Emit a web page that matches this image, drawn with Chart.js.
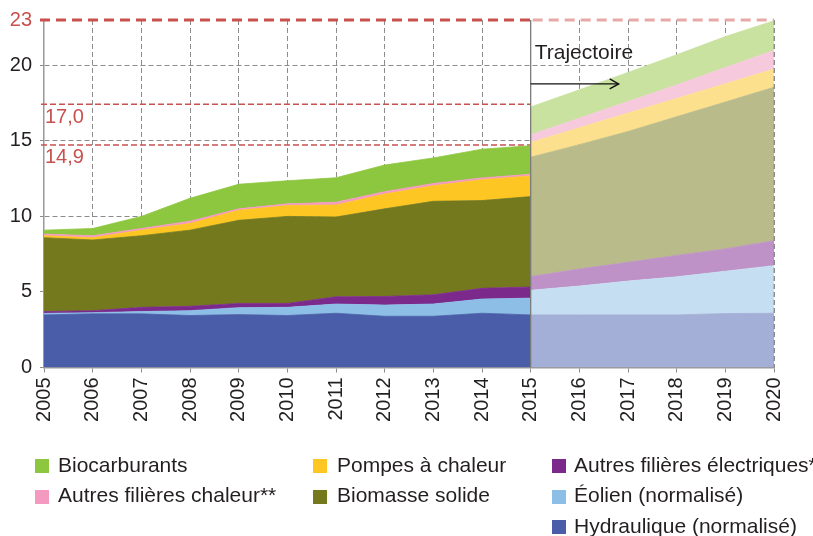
<!DOCTYPE html>
<html><head><meta charset="utf-8">
<script src="https://cdn.jsdelivr.net/npm/chart.js@4"></script>
<style>
html,body{margin:0;padding:0;background:#fff;}
#wrap{position:relative;width:813px;height:536px;overflow:hidden;}
canvas{position:absolute;left:0;top:0;}
.lg{position:absolute;font-family:"Liberation Sans",Arial,sans-serif;font-size:21px;color:#231f20;white-space:nowrap;line-height:24px;}
.sw{position:absolute;width:14px;height:14px;}
</style></head><body>
<div id="wrap"><canvas id="c" width="813" height="536"></canvas></div>
<script>
// ---- data ----
const histYears = [2005,2006,2007,2008,2009,2010,2011,2012,2013,2014,2015];
const projYears = [2015,2016,2017,2018,2019,2020];
const seriesNames = ["Hydraulique (normalisé)","Éolien (normalisé)","Autres filières électriques*","Biomasse solide","Pompes à chaleur","Autres filières chaleur**","Biocarburants"];
const histColors = ["#4a5da8","#8cbee6","#7b2a8c","#74791d","#fdc623","#f49ac1","#8dc63f"];
const projColors = ["#a3afd6","#c6def2","#be92c6","#b9bb8b","#fde08e","#f7c9dd","#c9e2a0"];
// historical values (Mtep) per series
const histHydro   = [3.48,3.55,3.55,3.44,3.50,3.44,3.59,3.39,3.39,3.59,3.48];
const histEolien  = [0.10,0.08,0.15,0.32,0.46,0.54,0.61,0.74,0.81,0.94,1.11];
const histAutElec = [0.12,0.13,0.28,0.29,0.28,0.26,0.48,0.57,0.61,0.71,0.74];
const histBiomasse= [4.89,4.68,4.74,5.04,5.50,5.76,5.28,5.80,6.19,5.81,5.98];
const histPAC     = [0.13,0.15,0.37,0.44,0.66,0.72,0.80,0.98,1.03,1.38,1.37];
const histAutChal = [0.11,0.13,0.11,0.15,0.10,0.11,0.18,0.16,0.15,0.12,0.11];
const histBiocarb = [0.26,0.48,0.80,1.52,1.63,1.53,1.62,1.76,1.69,1.90,1.89];
// trajectory values
const projHydro   = [3.48,3.48,3.48,3.48,3.57,3.59];
const projEolien  = [1.63,1.91,2.24,2.52,2.80,3.15];
const projAutElec = [0.91,1.13,1.24,1.42,1.48,1.65];
const projBiomasse= [7.90,8.23,8.66,9.18,9.72,10.16];
const projPAC     = [0.98,1.12,1.22,1.21,1.21,1.20];
const projAutChal = [0.50,0.63,0.76,0.89,1.07,1.23];
const projBiocarb = [1.85,1.88,1.93,2.00,2.05,1.97];
const yTicks = [0,5,10,15,20,23];
const targetValue = 23;
const refValues = [17.42,14.73];
const refLabels = ["17,0","14,9"];
const splitYear = 2015;
const legendCols = [[6,5],[4,3],[2,1,0]];

const histSeries = [histHydro,histEolien,histAutElec,histBiomasse,histPAC,histAutChal,histBiocarb];
const projSeries = [projHydro,projEolien,projAutElec,projBiomasse,projPAC,projAutChal,projBiocarb];

const RED = "#c8504e", PINK = "#e6a9a8", GRID = "#8c8c8c", TXT = "#231f20";
const FONT = '"Liberation Sans", Arial, sans-serif';

const datasets = [];
histSeries.forEach((vals,i)=>{
  datasets.push({label:seriesNames[i], stack:'hist',
    data: histYears.map((x,k)=>({x, y: vals[k]})),
    backgroundColor: histColors[i], borderColor: histColors[i], borderWidth: 0.8,
    pointRadius: 0, fill: i===0 ? 'origin' : '-1', tension: 0});
});
projSeries.forEach((vals,i)=>{
  datasets.push({label:seriesNames[i]+' (trajectoire)', stack:'proj',
    data: projYears.map((x,k)=>({x, y: vals[k]})),
    backgroundColor: projColors[i], borderColor: projColors[i], borderWidth: 0.8,
    pointRadius: 0, fill: i===0 ? 'origin' : '-1', tension: 0});
});

function seg(ctx,x1,y1,x2,y2){ctx.beginPath();ctx.moveTo(x1,y1);ctx.lineTo(x2,y2);ctx.stroke();}

const overlay = {
  id:'overlay',
  beforeDatasetsDraw(chart){
    const {ctx, chartArea:a, scales:{x,y}} = chart;
    const xs = x.getPixelForValue(splitYear);
    ctx.save();
    ctx.strokeStyle = RED; ctx.lineWidth = 1.5; ctx.setLineDash([6,3]);
    ctx.fillStyle = RED; ctx.font = '20px '+FONT; ctx.textBaseline='middle'; ctx.textAlign='left';
    refValues.forEach((v,i)=>{
      const py = y.getPixelForValue(v);
      seg(ctx, a.left-3, py, xs, py);
      ctx.fillText(refLabels[i], a.left+1, py+13);
    });
    ctx.restore();
  },
  afterDatasetsDraw(chart){
    const {ctx, chartArea:a, scales:{x,y}} = chart;
    const xs = x.getPixelForValue(splitYear);
    const xe = x.getPixelForValue(projYears[projYears.length-1]);
    ctx.save();
    ctx.strokeStyle = 'rgba(140,140,140,0.9)'; ctx.lineWidth = 1; ctx.setLineDash([5,3]);
    seg(ctx, xe, a.top, xe, a.bottom);
    ctx.setLineDash([]); ctx.strokeStyle = '#7a7a7a'; ctx.lineWidth = 1.3;
    seg(ctx, xs, a.top, xs, a.bottom);
    const pt = y.getPixelForValue(targetValue);
    ctx.lineWidth = 3; ctx.setLineDash([10,6]);
    ctx.strokeStyle = RED; seg(ctx, a.left-4, pt, xs, pt);
    ctx.strokeStyle = PINK; seg(ctx, xs+2, pt, xe, pt);
    ctx.setLineDash([]);
    ctx.fillStyle = TXT; ctx.font = '21px '+FONT; ctx.textAlign='left'; ctx.textBaseline='alphabetic';
    ctx.fillText('Trajectoire', xs+4, y.getPixelForValue(20.4));
    const ay = y.getPixelForValue(18.77);
    const tip = xs + 88;
    ctx.strokeStyle = '#111'; ctx.lineWidth = 1.4;
    seg(ctx, xs, ay, tip, ay);
    ctx.beginPath(); ctx.moveTo(tip-9, ay-5); ctx.lineTo(tip, ay); ctx.lineTo(tip-9, ay+5); ctx.stroke();
    ctx.restore();
  }
};

new Chart(document.getElementById('c'), {
  type:'line',
  data:{datasets},
  options:{
    responsive:false, animation:false, events:[],
    layout:{padding:{top:16.5,right:39,left:0,bottom:0}},
    plugins:{legend:{display:false}, tooltip:{enabled:false}},
    scales:{
      x:{type:'linear', min:2005, max:2020,
        afterFit(s){ s.height = 168.5; },
        ticks:{stepSize:1, autoSkip:false, minRotation:90, maxRotation:90, padding:5,
          callback:v=>String(v), color:TXT,
          font:{family:FONT, size:20}},
        grid:{color:c=> (c.tick && (c.tick.value===2005 || c.tick.value===splitYear)) ? 'rgba(0,0,0,0)' : GRID,
          tickColor:GRID, tickLength:5, lineWidth:1},
        border:{display:true, color:'#999', width:1.5, dash:[5,3]}
      },
      y:{type:'linear', stacked:true, min:0, max:23,
        afterFit(s){ s.width = 44; },
        afterBuildTicks(s){ s.ticks = yTicks.map(v=>({value:v})); },
        ticks:{autoSkip:false, padding:8, callback:v=>String(v),
          color:c=> (c.tick && c.tick.value===targetValue) ? RED : TXT,
          font:{family:FONT, size:20}},
        grid:{color:c=> (c.tick && (c.tick.value===0 || c.tick.value===targetValue)) ? 'rgba(0,0,0,0)' : GRID,
          tickColor:c=> (c.tick && c.tick.value===targetValue) ? 'rgba(0,0,0,0)' : GRID,
          tickLength:4, lineWidth:1},
        border:{display:true, color:'#999', width:1.5, dash:[5,3]}
      }
    }
  },
  plugins:[overlay]
});

// legend (HTML)
const wrap = document.getElementById('wrap');
const colX = [[35,58],[313,337],[552,574]];
const rowTop = [452.7,483.2,513.7];
legendCols.forEach((col,ci)=>{
  col.forEach((si,ri)=>{
    const sw = document.createElement('div');
    sw.className='sw'; sw.style.background = histColors[si];
    sw.style.left = colX[ci][0]+'px'; sw.style.top = (rowTop[ri]+6.3)+'px';
    wrap.appendChild(sw);
    const t = document.createElement('div');
    t.className='lg'; t.textContent = seriesNames[si];
    t.style.left = colX[ci][1]+'px'; t.style.top = rowTop[ri]+'px';
    wrap.appendChild(t);
  });
});
</script>
</body></html>
